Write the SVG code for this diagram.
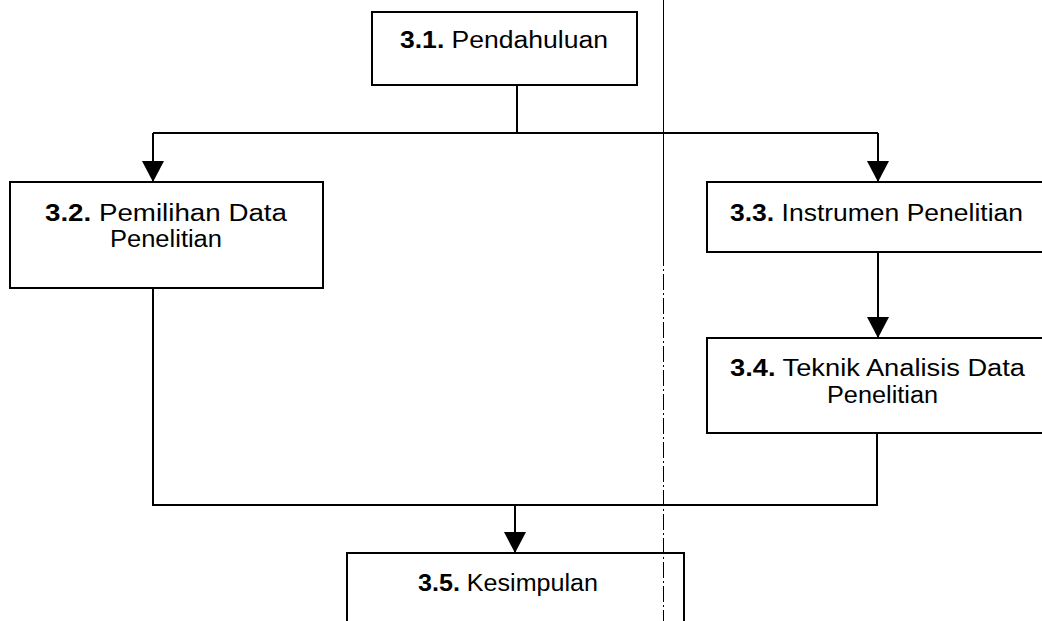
<svg xmlns="http://www.w3.org/2000/svg" width="1042" height="621" viewBox="0 0 1042 621">
  <style>
    .box { fill: #ffffff; stroke: #000000; stroke-width: 2; }
    .wire { fill: none; stroke: #000000; stroke-width: 2; }
    .lbl { font-family: "Liberation Sans", Arial, sans-serif; font-size: 23px; fill: #000000; }
    .num { font-weight: bold; }
    .guide { stroke: #000000; stroke-width: 1; fill: none; }
  </style>
  <defs>
    <marker id="arrow" viewBox="0 0 21 22" refX="21" refY="11" markerWidth="21" markerHeight="22" markerUnits="userSpaceOnUse" orient="auto">
      <path d="M0,0 L21,11 L0,22 Z" fill="#000000"/>
    </marker>
  </defs>

  <rect width="1042" height="621" fill="#ffffff"/>

  <g id="connectors">
    <path class="wire" d="M517,85 V133 M153,133 H878"/>
    <line class="wire" x1="153" y1="133" x2="153" y2="182" marker-end="url(#arrow)"/>
    <line class="wire" x1="878" y1="133" x2="878" y2="182" marker-end="url(#arrow)"/>
    <line class="wire" x1="878" y1="252" x2="878" y2="338" marker-end="url(#arrow)"/>
    <path class="wire" d="M153,288 V505 H877 V433"/>
    <line class="wire" x1="515" y1="505" x2="515" y2="553" marker-end="url(#arrow)"/>
  </g>

  <g id="node-3-1">
    <rect class="box" x="372" y="12" width="265" height="73"/>
    <text class="lbl" x="400" y="48" textLength="208" lengthAdjust="spacingAndGlyphs"><tspan class="num">3.1.</tspan> Pendahuluan</text>
  </g>

  <g id="node-3-2">
    <rect class="box" x="10" y="182" width="313" height="106"/>
    <text class="lbl" x="45" y="221" textLength="242" lengthAdjust="spacingAndGlyphs"><tspan class="num">3.2.</tspan>  Pemilihan Data</text>
    <text class="lbl" x="110" y="247" textLength="112" lengthAdjust="spacingAndGlyphs">Penelitian</text>
  </g>

  <g id="node-3-3">
    <rect class="box" x="707" y="182" width="345" height="70"/>
    <text class="lbl" x="730" y="221" textLength="293" lengthAdjust="spacingAndGlyphs"><tspan class="num">3.3.</tspan> Instrumen Penelitian</text>
  </g>

  <g id="node-3-4">
    <rect class="box" x="707" y="338" width="345" height="95"/>
    <text class="lbl" x="730" y="376" textLength="295" lengthAdjust="spacingAndGlyphs"><tspan class="num">3.4.</tspan> Teknik Analisis Data</text>
    <text class="lbl" x="827" y="403" textLength="111" lengthAdjust="spacingAndGlyphs">Penelitian</text>
  </g>

  <g id="node-3-5">
    <rect class="box" x="347" y="553" width="337" height="80"/>
    <text class="lbl" x="418" y="591" textLength="180" lengthAdjust="spacingAndGlyphs"><tspan class="num">3.5.</tspan> Kesimpulan</text>
  </g>

  <!-- page centre guide line, drawn over the boxes it crosses -->
  <g id="guide">
    <line class="guide" x1="663.5" y1="0" x2="663.5" y2="250"/>
    <line class="guide" x1="663.5" y1="250" x2="663.5" y2="621" stroke-dasharray="16 3 2 3"/>
  </g>
</svg>
